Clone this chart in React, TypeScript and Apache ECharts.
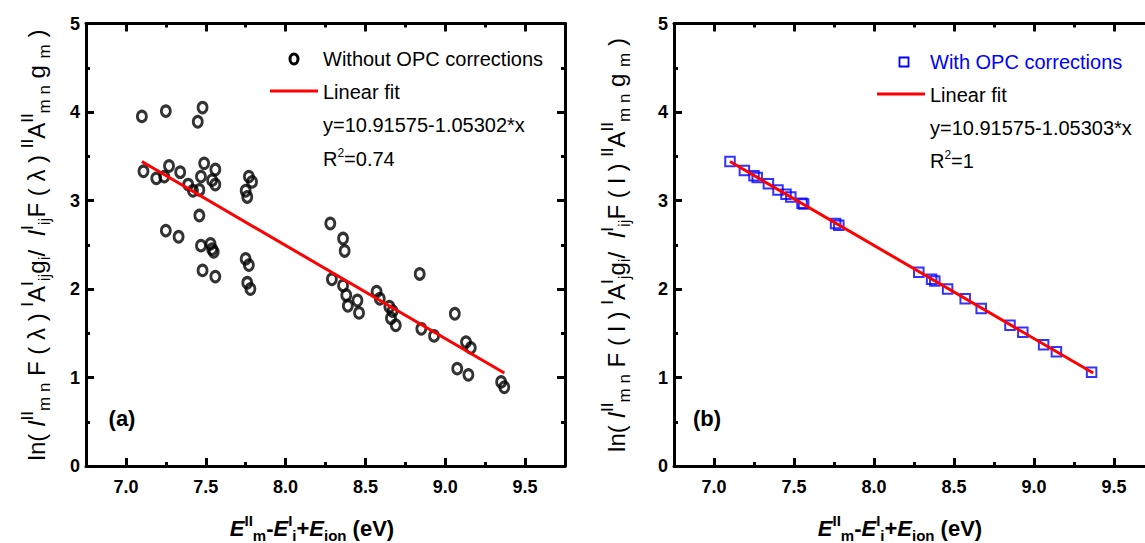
import React, { useEffect, useRef } from "react";
import * as echarts from "echarts";

// ---- data ----
const xTickValues = [7.0, 7.5, 8.0, 8.5, 9.0, 9.5];
const xMinorValues = [7.25, 7.75, 8.25, 8.75, 9.25];
const yTickValues = [1, 2, 3, 4];
const yMinorValues = [0.5, 1.5, 2.5, 3.5, 4.5];

const xWithout = [
  7.1, 7.25, 7.48, 7.45, 7.11, 7.19, 7.24, 7.27, 7.34, 7.39, 7.42, 7.46, 7.47, 7.49, 7.54,
  7.56, 7.56, 7.75, 7.77, 7.79, 7.76, 7.46, 7.25, 7.33, 7.47, 7.53, 7.54, 7.55, 7.48, 7.56,
  7.75, 7.77, 7.76, 7.78, 8.28, 8.36, 8.37, 8.29, 8.36, 8.38, 8.39, 8.45, 8.46, 8.57, 8.59,
  8.65, 8.67, 8.66, 8.69, 8.84, 8.85, 8.93, 9.06, 9.075, 9.145, 9.13, 9.16, 9.35, 9.37,
];
const yWithout = [
  3.95, 4.01, 4.05, 3.89, 3.33, 3.25, 3.27, 3.39, 3.32, 3.18, 3.11, 3.12, 3.27, 3.42, 3.23,
  3.35, 3.18, 3.11, 3.27, 3.21, 3.04, 2.83, 2.66, 2.59, 2.49, 2.51, 2.45, 2.42, 2.21, 2.14,
  2.34, 2.27, 2.07, 2.0, 2.74, 2.57, 2.43, 2.11, 2.04, 1.93, 1.81, 1.87, 1.73, 1.97, 1.89,
  1.8, 1.75, 1.67, 1.59, 2.17, 1.55, 1.47, 1.72, 1.1, 1.03, 1.4, 1.335, 0.95, 0.89,
];

const xWith = [
  7.1, 7.19, 7.25, 7.27, 7.34, 7.4, 7.45, 7.48, 7.55, 7.56, 7.76, 7.78, 8.28, 8.36, 8.38,
  8.46, 8.57, 8.67, 8.85, 8.93, 9.06, 9.14, 9.36,
];
const yWith = [
  3.44, 3.34, 3.28, 3.26, 3.19, 3.12, 3.07, 3.04, 2.97, 2.96, 2.74, 2.72, 2.19, 2.11, 2.09,
  2.0, 1.89, 1.78, 1.59, 1.51, 1.37, 1.29, 1.06,
];

const fitX = [7.1, 9.37];
const fitYWithout = [3.44, 1.05];
const fitYWith = [3.44, 1.05];

const legendA = ["Without OPC corrections", "Linear fit", "y=10.91575-1.05302*x", "R{sup|2}=0.74"];
const legendB = ["With OPC corrections", "Linear fit", "y=10.91575-1.05303*x", "R{sup|2}=1"];

const yTitleA =
  "ln( {i|I}{sup|II}{sub|m n} F ( \u03bb ) {sup|I}A{sup|I}{sub|ij}g{sub|i}/  {i|I}{sup|I}{sub|ij}F ( \u03bb ) {sup|II}A{sup|II}{sub|m n} g {sub|m} )";
const yTitleB =
  "ln( {i|I}{sup|II}{sub|m n} F ( l ) {sup|I}A{sup|I}{sub|j}g{sub|i}/  {i|I}{sup|I}{sub|ij}F ( l ) {sup|II}A{sup|II}{sub|m n} g {sub|m} )";
const xTitle = "{i|E}{sup|II}{sub|m}-{i|E}{sup|I}{sub|i}+{i|E}{sub|ion} (eV)";

const FF = "'Liberation Sans', Arial, sans-serif";
const FFN = "'Liberation Sans Narrow', 'Arial Narrow', 'Liberation Sans', Arial, sans-serif";

const X_MIN = 6.75;
const X_MAX = 9.75;
const Y_MIN = 0;
const Y_MAX = 5;

const zip = (a: number[], b: number[]) => a.map((v, i) => [v, b[i]]);

// inward tick marks, drawn through the grid's own scales
function tickMarks() {
  const xMaj = 0.09; // in y units
  const xMin = 0.045;
  const yMaj = 0.05; // in x units
  const yMin = 0.025;
  const seg = (a: number[], b: number[]) => [{ coord: a }, { coord: b }];
  return [
    ...xTickValues.map((v) => seg([v, Y_MIN], [v, Y_MIN + xMaj])),
    ...xTickValues.map((v) => seg([v, Y_MAX], [v, Y_MAX - xMaj])),
    ...xMinorValues.map((v) => seg([v, Y_MIN], [v, Y_MIN + xMin])),
    ...xMinorValues.map((v) => seg([v, Y_MAX], [v, Y_MAX - xMin])),
    ...yTickValues.map((v) => seg([X_MIN, v], [X_MIN + yMaj, v])),
    ...yTickValues.map((v) => seg([X_MAX, v], [X_MAX - yMaj, v])),
    ...yMinorValues.map((v) => seg([X_MIN, v], [X_MIN + yMin, v])),
    ...yMinorValues.map((v) => seg([X_MAX, v], [X_MAX - yMin, v])),
  ];
}

const tickMarkLine = () => ({
  silent: true,
  symbol: ["none", "none"],
  animation: false,
  label: { show: false },
  emphasis: { disabled: true },
  lineStyle: { color: "#000", width: 3, type: "solid", opacity: 1 },
  data: tickMarks(),
});

function xAxes(gridIndex: number) {
  const base = { gridIndex, type: "value", min: X_MIN, max: X_MAX, splitLine: { show: false } };
  return [
    {
      ...base,
      position: "bottom",
      axisLine: { show: true, onZero: false, lineStyle: { color: "#000", width: 3 } },
      axisTick: { show: false },
      axisLabel: {
        show: true,
        customValues: xTickValues,
        formatter: (v: number) => v.toFixed(1),
        margin: 12,
        fontSize: 18,
        fontWeight: "bold",
        fontFamily: FFN,
        color: "#000",
      },
    },
    {
      ...base,
      position: "top",
      axisLine: { show: true, onZero: false, lineStyle: { color: "#000", width: 3 } },
      axisTick: { show: false },
      axisLabel: { show: false },
    },
  ];
}

function yAxes(gridIndex: number) {
  const base = {
    gridIndex,
    type: "value",
    min: Y_MIN,
    max: Y_MAX,
    interval: 1,
    splitLine: { show: false },
    axisLine: { show: true, onZero: false, lineStyle: { color: "#000", width: 3 } },
    axisTick: { show: false },
  };
  return [
    {
      ...base,
      position: "left",
      axisLabel: { show: true, margin: 6, fontSize: 18, fontWeight: "bold", fontFamily: FFN, color: "#000" },
    },
    { ...base, position: "right", axisLabel: { show: false } },
  ];
}

const richTitle = {
  sup: { fontSize: 17, verticalAlign: "top", fontFamily: FF, lineHeight: 17 },
  sub: { fontSize: 17, verticalAlign: "bottom", fontFamily: FF, lineHeight: 17 },
  i: { fontSize: 24, fontStyle: "italic", fontFamily: FF },
};
const richX = {
  sup: { fontSize: 15, verticalAlign: "top", fontFamily: FF, fontWeight: "bold", lineHeight: 15 },
  sub: { fontSize: 15, verticalAlign: "bottom", fontFamily: FF, fontWeight: "bold", lineHeight: 15 },
  i: { fontSize: 22, fontStyle: "italic", fontWeight: "bold", fontFamily: FF },
};
const richLeg = {
  sup: { fontSize: 12, verticalAlign: "top", fontFamily: FF, lineHeight: 12 },
};

function legendGraphics(x0: number, lineX0: number, rowsY: number[], lines: string[], firstColor: string, marker: any) {
  const els: any[] = [marker];
  els.push({
    type: "line",
    shape: { x1: lineX0, y1: rowsY[1] - 1, x2: lineX0 + 48, y2: rowsY[1] - 1 },
    style: { stroke: "#ff0000", lineWidth: 3 },
  });
  lines.forEach((t, i) => {
    els.push({
      type: "text",
      x: x0,
      y: rowsY[i],
      style: {
        text: t,
        fill: i === 0 ? firstColor : "#000",
        fontSize: 20,
        fontFamily: FF,
        align: "left",
        verticalAlign: "middle",
        lineHeight: 24,
        rich: richLeg,
      },
    });
  });
  return els;
}

export default function App() {
  const ref = useRef<HTMLDivElement>(null);
  useEffect(() => {
    if (!ref.current) return;
    const chart = echarts.init(ref.current, undefined, { renderer: "svg" });
    const yTitleStyle = (text: string) => ({
      text,
      fontSize: 24,
      fontFamily: FF,
      fill: "#000",
      align: "center",
      verticalAlign: "middle",
      lineHeight: 34,
      rich: richTitle,
    });
    const xTitleStyle = {
      text: xTitle,
      fontSize: 22,
      fontWeight: "bold",
      fontFamily: FF,
      fill: "#000",
      align: "center",
      verticalAlign: "middle",
      lineHeight: 30,
      rich: richX,
    };
    const graphic: any[] = [
      ...legendGraphics(
        323,
        270,
        [59, 92, 125, 159],
        legendA,
        "#000",
        { type: "ellipse", shape: { cx: 294, cy: 59, rx: 4, ry: 5 }, style: { fill: "none", stroke: "#000", lineWidth: 3 } }
      ),
      ...legendGraphics(
        930,
        877,
        [62, 95, 128, 161],
        legendB,
        "#0000ff",
        { type: "rect", shape: { x: 899.5, y: 57.5, width: 9, height: 9 }, style: { fill: "none", stroke: "#0000ff", lineWidth: 1.8 } }
      ),
      {
        type: "text",
        x: 122,
        y: 418,
        style: { text: "(a)", fontSize: 22, fontWeight: "bold", fontFamily: FFN, fill: "#000", align: "center", verticalAlign: "middle" },
      },
      {
        type: "text",
        x: 707,
        y: 418,
        style: { text: "(b)", fontSize: 22, fontWeight: "bold", fontFamily: FFN, fill: "#000", align: "center", verticalAlign: "middle" },
      },
      { type: "text", x: 36, y: 245, rotation: Math.PI / 2, style: yTitleStyle(yTitleA) },
      { type: "text", x: 616, y: 245, rotation: Math.PI / 2, style: yTitleStyle(yTitleB) },
      { type: "text", x: 312, y: 528, style: xTitleStyle },
      { type: "text", x: 900, y: 528, style: xTitleStyle },
    ];

    chart.setOption({
      animation: false,
      backgroundColor: "#fff",
      grid: [
        { left: 86, top: 23.5, width: 479, height: 442.5, containLabel: false, outerBoundsMode: "none" },
        { left: 674, top: 23.5, width: 480, height: 442.5, containLabel: false, outerBoundsMode: "none" },
      ],
      xAxis: [...xAxes(0), ...xAxes(1)],
      yAxis: [...yAxes(0), ...yAxes(1)],
      series: [
        {
          type: "scatter",
          xAxisIndex: 0,
          yAxisIndex: 0,
          data: zip(xWithout, yWithout),
          symbol: "circle",
          symbolSize: [9, 10.5],
          itemStyle: { color: "rgba(0,0,0,0)", borderColor: "#000", borderWidth: 3 },
          silent: true,
          markLine: tickMarkLine(),
        },
        {
          type: "line",
          xAxisIndex: 0,
          yAxisIndex: 0,
          data: zip(fitX, fitYWithout),
          showSymbol: false,
          symbol: "none",
          lineStyle: { color: "#ff0000", width: 3 },
          silent: true,
        },
        {
          type: "scatter",
          xAxisIndex: 2,
          yAxisIndex: 2,
          data: zip(xWith, yWith),
          symbol: "rect",
          symbolSize: 9.5,
          itemStyle: { color: "rgba(0,0,0,0)", borderColor: "#0000ff", borderWidth: 2 },
          silent: true,
          markLine: tickMarkLine(),
        },
        {
          type: "line",
          xAxisIndex: 2,
          yAxisIndex: 2,
          data: zip(fitX, fitYWith),
          showSymbol: false,
          symbol: "none",
          lineStyle: { color: "#ff0000", width: 3 },
          silent: true,
        },
      ],
      graphic,
    });
    return () => chart.dispose();
  }, []);
  return <div ref={ref} style={{ position: "absolute", left: 0, top: 0, width: 1145, height: 543 }} />;
}
